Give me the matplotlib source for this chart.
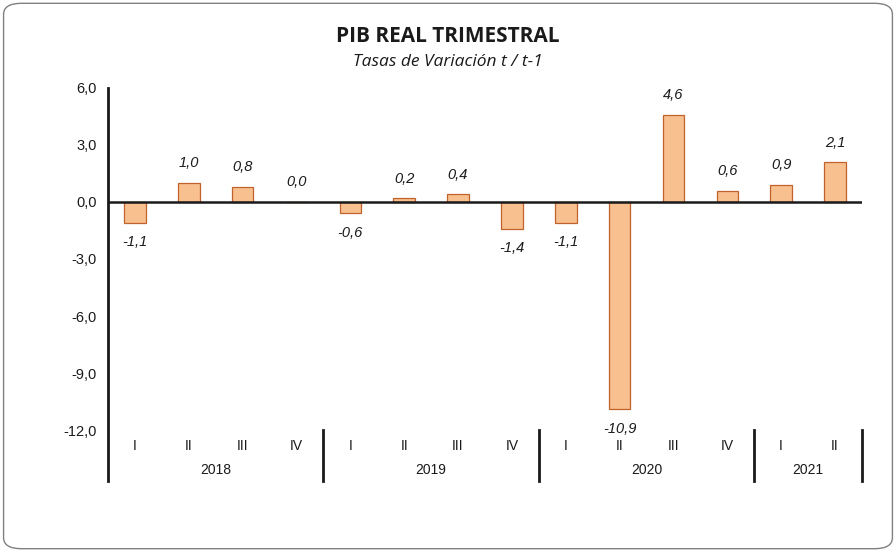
import matplotlib.pyplot as plt
from matplotlib.patches import FancyBboxPatch

quarters = ["I", "II", "III", "IV", "I", "II", "III", "IV", "I", "II", "III", "IV", "I", "II"]
years = ["2018", "2019", "2020", "2021"]
year_sizes = [4, 4, 4, 2]
values = [-1.1, 1.0, 0.8, 0.0, -0.6, 0.2, 0.4, -1.4, -1.1, -10.9, 4.6, 0.6, 0.9, 2.1]
yticks = [6, 3, 0, -3, -6, -9, -12]

fig = plt.figure(figsize=(8.96, 5.52), dpi=100)
fig.patches.append(FancyBboxPatch((0.004, 0.006), 0.992, 0.988, boxstyle="round,pad=0,rounding_size=0.02",
                                  transform=fig.transFigure, facecolor="white", edgecolor="#808080",
                                  linewidth=1.0, zorder=-1))

ax = fig.add_axes([0.1205, 0.221, 0.8415, 0.6196])
ax.patch.set_visible(False)
x = list(range(len(values)))
ax.bar(x, values, width=0.4, color="#F8C08F", edgecolor="#C0622B", linewidth=0.9, zorder=2)
ax.set_xlim(-0.5, len(values) - 0.5)
ax.set_ylim(-12, 6)
ax.axhline(0, color="#1a1a1a", linewidth=1.8, zorder=3)

for s in ["top", "right", "bottom", "left"]:
    ax.spines[s].set_visible(False)
ax.set_xticks([])
ax.set_yticks(yticks)
ax.set_yticklabels([f"{v:.1f}".replace(".", ",") for v in yticks], fontsize=10.5,
                   family="Liberation Sans", color="#1a1a1a")
ax.tick_params(axis="y", length=0, pad=8)

for i, v in enumerate(values):
    lab = f"{v:.1f}".replace(".", ",")
    if v >= 0:
        ax.annotate(lab, (i, v), xytext=(0, 9), textcoords="offset points", ha="center", va="bottom",
                    fontsize=10.5, style="italic", family="Liberation Sans", color="#1a1a1a")
    else:
        ax.annotate(lab, (i, v), xytext=(0, -9), textcoords="offset points", ha="center", va="top",
                    fontsize=10.5, style="italic", family="Liberation Sans", color="#1a1a1a")

# category axis below the plot (in axes coordinates for y)
trans = ax.get_xaxis_transform()
h = 0.6196 * 552
y_q = -16 / h
y_y = -40 / h
y_bot = -51 / h
ax.plot([-0.5, -0.5], [1, y_bot], transform=trans, color="#1a1a1a", linewidth=2, clip_on=False)
for i, q in enumerate(quarters):
    ax.text(i, y_q, q, transform=trans, ha="center", va="center", fontsize=10,
            family="Liberation Sans", color="#1a1a1a")
start = 0
for yr, n in zip(years, year_sizes):
    end = start + n
    ax.plot([end - 0.5, end - 0.5], [0.0, y_bot], transform=trans, color="#1a1a1a", linewidth=2,
            clip_on=False)
    ax.text((start + end - 1) / 2, y_y, yr, transform=trans, ha="center", va="center", fontsize=10,
            family="Liberation Sans", color="#1a1a1a")
    start = end

fig.text(0.5, 0.934, "PIB REAL TRIMESTRAL", ha="center", va="center", fontsize=15, fontweight="bold",
         family="Open Sans", color="#1a1a1a")
fig.text(0.5, 0.887, "Tasas de Variación t / t-1", ha="center", va="center", fontsize=12.5,
         style="italic", family="Open Sans", color="#1a1a1a")

fig.savefig("out.png", dpi=100)
